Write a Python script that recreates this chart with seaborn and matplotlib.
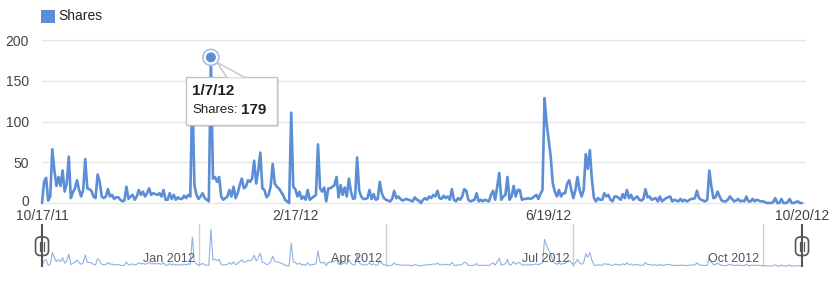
import numpy as np
import pandas as pd
import matplotlib
matplotlib.use('Agg')
import matplotlib.pyplot as plt
import matplotlib.dates as mdates
import matplotlib.transforms as mtransforms
import seaborn as sns
from matplotlib.patches import Rectangle, FancyBboxPatch, Polygon, Circle

# ---------------- data ----------------
series_name = 'Shares'
start_date = '2011-10-17'
end_date = '2012-10-20'
shares = [
    0, 26, 31, 3, 8, 66, 40, 21, 32, 21,          # d0
    40, 14, 24, 57, 6, 13, 18, 28, 16, 8,         # d10
    16, 54, 18, 17, 15, 8, 6, 35, 26, 8,          # d20
    6, 8, 17, 8, 10, 5, 7, 7, 4, 2,               # d30
    3, 20, 5, 8, 10, 4, 8, 16, 10, 14,            # d40
    8, 12, 18, 10, 12, 11, 10, 12, 8, 16,         # d50
    4, 4, 12, 5, 10, 4, 7, 5, 5, 9,               # d60
    6, 10, 8, 140, 22, 10, 5, 8, 12, 6,           # d70
    4, 2, 179, 30, 32, 26, 32, 8, 4, 6,           # d80
    8, 16, 8, 20, 6, 12, 22, 30, 18, 20,          # d90
    28, 26, 30, 52, 24, 40, 62, 18, 16, 7,        # d100
    10, 20, 48, 24, 20, 18, 14, 10, 4, 2,         # d110
    0, 111, 20, 17, 8, 14, 5, 8, 4, 16,           # d120
    4, 6, 8, 10, 72, 18, 14, 19, 2, 18,           # d130
    18, 20, 22, 32, 7, 22, 10, 19, 8, 30,         # d140
    14, 5, 6, 56, 15, 8, 5, 5, 6, 16,             # d150
    5, 11, 4, 5, 26, 12, 6, 4, 3, 2,              # d160
    5, 15, 6, 8, 5, 3, 4, 5, 4, 3,                # d170
    2, 7, 4, 3, 0, 4, 6, 4, 8, 6,                 # d180
    10, 8, 15, 6, 5, 9, 6, 8, 4, 17,              # d190
    4, 2, 6, 4, 8, 17, 15, 4, 2, 3,               # d200
    4, 12, 2, 4, 2, 4, 3, 2, 10, 15,              # d210
    4, 20, 37, 4, 8, 10, 32, 4, 8, 21,            # d220
    8, 16, 16, 4, 5, 5, 6, 5, 6, 8,               # d230
    10, 5, 11, 16, 129, 98, 78, 57, 24, 14,       # d240
    8, 16, 8, 12, 12, 24, 28, 16, 6, 16,          # d250
    32, 16, 8, 16, 60, 42, 65, 28, 6, 2,          # d260
    6, 4, 4, 12, 8, 10, 4, 2, 8, 8,               # d270
    6, 4, 11, 6, 16, 6, 10, 4, 6, 8,              # d280
    4, 3, 5, 17, 7, 8, 4, 5, 6, 2,                # d290
    8, 2, 4, 6, 7, 8, 2, 4, 3, 2,                 # d300
    5, 2, 4, 2, 3, 5, 5, 6, 15, 6,                # d310
    4, 3, 2, 4, 40, 20, 6, 7, 14, 8,              # d320
    3, 2, 2, 4, 8, 5, 2, 3, 5, 2,                 # d330
    3, 2, 8, 2, 2, 5, 2, 4, 3, 2,                 # d340
    2, 1, 0, 0, 0, 1, 6, 0, 0, 5,                 # d350
    0, 0, 1, 5, 0, 0, 1, 2, 0, 0,                 # d360
]
tick_dates = ['2011-10-17', '2012-02-17', '2012-06-19', '2012-10-20']
tick_labels = ['10/17/11', '2/17/12', '6/19/12', '10/20/12']
y_ticks = [0, 50, 100, 150, 200]
nav_months = ['2012-01-01', '2012-04-01', '2012-07-01', '2012-10-01']
nav_labels = ['Jan 2012', 'Apr 2012', 'Jul 2012', 'Oct 2012']
highlight_date = '2012-01-07'

dates = pd.date_range(start_date, periods=len(shares), freq='D')
df = pd.DataFrame({'date': dates, 'shares': shares})

# ---------------- style ----------------
sns.set_style('white')
plt.rcParams['font.family'] = ['Liberation Sans', 'DejaVu Sans']

BLUE = '#5b8ed4'
NAV_BLUE = '#8fb2e4'
GRID = '#e6e6e6'
TXT = '#444444'

W, H = 835, 282
fig = plt.figure(figsize=(W / 100, H / 100), dpi=100)


def fr(x0, y0, x1, y1):
    """pixel box (top-left origin) -> figure fraction rect"""
    return [x0 / W, 1 - y1 / H, (x1 - x0) / W, (y1 - y0) / H]


x_lo, x_hi = pd.Timestamp(start_date), pd.Timestamp(end_date)

# ---------------- main chart ----------------
ax = fig.add_axes(fr(42, 40.3, 802, 203))
for y in y_ticks:
    ax.axhline(y, color=GRID, lw=1, zorder=0, xmin=0, xmax=1.004, clip_on=False)
sns.lineplot(data=df, x='date', y='shares', ax=ax, color=BLUE, lw=1.9,
             clip_on=False, zorder=3)
ax.set_xlim(x_lo, x_hi)
ax.set_ylim(0, 200)
for s in ax.spines.values():
    s.set_visible(False)
ax.set_xlabel('')
ax.set_ylabel('')
ax.set_yticks(y_ticks)
ax.set_yticklabels([str(v) for v in y_ticks])
ax.tick_params(axis='y', length=0, pad=9.4, labelsize=10, labelcolor=TXT)
# lift the "0" label slightly, as in the reference
ylab0 = ax.get_yticklabels()[0]
ylab0.set_transform(ylab0.get_transform() +
                    mtransforms.ScaledTranslation(0, 2 / 72, fig.dpi_scale_trans))
ax.set_xticks(pd.to_datetime(tick_dates))
ax.set_xticklabels(tick_labels)
ax.tick_params(axis='x', length=0, pad=4.6, labelsize=10, labelcolor=TXT)

# ---------------- navigator ----------------
nav = fig.add_axes(fr(42, 222, 802, 267))
sns.lineplot(data=df, x='date', y='shares', ax=nav, color=NAV_BLUE, lw=0.8)
nav.set_xlim(x_lo, x_hi)
nav.set_ylim(-4.8, 212.9)
for s in nav.spines.values():
    s.set_visible(False)
nav.set_xticks([])
nav.set_yticks([])
nav.set_xlabel('')
nav.set_ylabel('')
for d, lab in zip(pd.to_datetime(nav_months), nav_labels):
    nav.axvline(d, ymin=0.02, ymax=0.955, color='#cfcfcf', lw=1, zorder=0)
    nav.annotate(lab, xy=(d, 0.17), xycoords=('data', 'axes fraction'),
                 xytext=(-3, 0), textcoords='offset points',
                 ha='right', va='center', fontsize=9, color='#555555')

# ---------------- overlay (pixel coords) ----------------
ov = fig.add_axes([0, 0, 1, 1], zorder=10)
ov.set_xlim(0, W)
ov.set_ylim(H, 0)
ov.axis('off')

# legend
ov.add_patch(Rectangle((41, 9.5), 13.5, 13.5, fc=BLUE, ec='none'))
ov.text(58.5, 16.3, series_name, fontsize=10, color='#222222', va='center', ha='left')

# highlighted point + tooltip
hd = pd.Timestamp(highlight_date)
hv = df.loc[df['date'] == hd, 'shares'].iloc[0]
px, py = ax.transData.transform((mdates.date2num(hd), hv))
mx, my = px, H - py

bx, by, bw, bh = mx - 24.5, my + 19.5, 91, 48
ov.add_patch(Rectangle((bx + 2, by + 2), bw, bh, fc='#000000', alpha=0.10, ec='none'))
ov.add_patch(Rectangle((bx, by), bw, bh, fc='white', ec='#c4c4c4', lw=1))
tri = [(mx + 6, my + 5), (mx + 16, by + 0.6), (mx + 34, by + 0.6)]
ov.add_patch(Polygon(tri, closed=True, fc='white', ec='none'))
ov.plot([tri[0][0], tri[1][0]], [tri[0][1], tri[1][1]], color='#c4c4c4', lw=1)
ov.plot([tri[0][0], tri[2][0]], [tri[0][1], tri[2][1]], color='#c4c4c4', lw=1)

ov.text(bx + 6, by + 14, f"{hd.month}/{hd.day}/{hd.strftime('%y')}", fontsize=11,
        fontweight='bold', color='#222222', va='center', ha='left')
lab_t = ov.text(bx + 6, by + 33, f"{series_name}:", fontsize=9.5, color='#222222',
                va='center', ha='left')
renderer = fig.canvas.get_renderer()
ext = lab_t.get_window_extent(renderer=renderer)
ov.text(ext.x1 + 3, by + 33, f"{hv:g}", fontsize=11, fontweight='bold',
        color='#222222', va='center', ha='left')

ov.add_patch(Circle((mx, my), 8, fc='white', ec='#a9bfdf', lw=1.2))
ov.add_patch(Circle((mx, my), 5, fc=BLUE, ec='none'))

# navigator handles
for hx in (42, 802):
    ov.plot([hx, hx], [224, 267], color='#555555', lw=1.5, solid_capstyle='butt')
    ov.add_patch(FancyBboxPatch((hx - 6.5, 237), 13, 18.5,
                                boxstyle='round,pad=0,rounding_size=5',
                                fc='white', ec='#555555', lw=1.2))
    for dx in (-2, 2):
        ov.plot([hx + dx, hx + dx], [241.5, 251], color='#555555', lw=0.9)

fig.savefig('out.png', dpi=100)
